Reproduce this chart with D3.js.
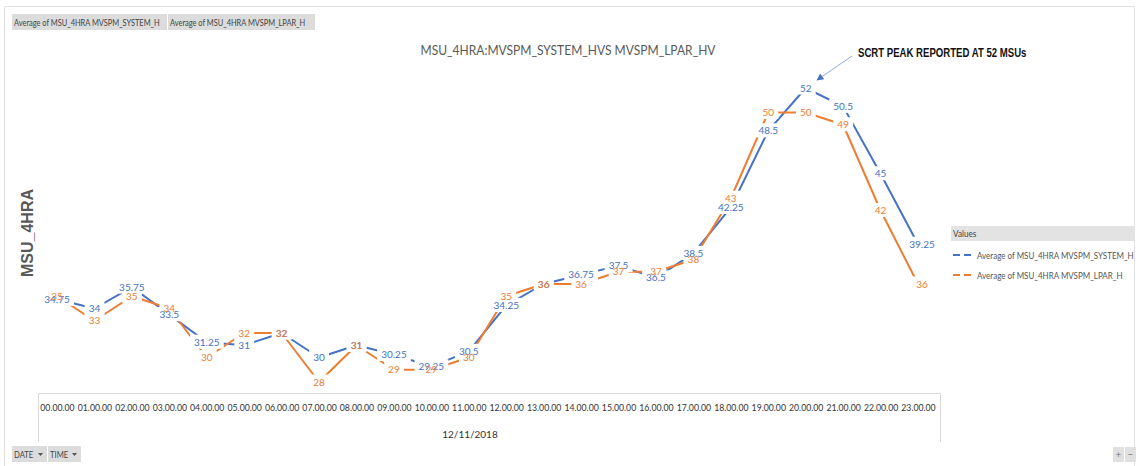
<!DOCTYPE html>
<html>
<head>
<meta charset="utf-8">
<script src="https://cdn.jsdelivr.net/npm/d3@7/dist/d3.min.js"></script>
<style>
  html, body { margin: 0; padding: 0; background: #fff; }
  svg { display: block; }
</style>
</head>
<body>
<svg id="chart" width="1138" height="466"></svg>
<script>
// ---- data ----
const hours = ["00.00.00","01.00.00","02.00.00","03.00.00","04.00.00","05.00.00","06.00.00","07.00.00",
  "08.00.00","09.00.00","10.00.00","11.00.00","12.00.00","13.00.00","14.00.00","15.00.00",
  "16.00.00","17.00.00","18.00.00","19.00.00","20.00.00","21.00.00","22.00.00","23.00.00"];
const systemValues = [34.75,34,35.75,33.5,31.25,31,32,30,31,30.25,29.25,30.5,34.25,36,36.75,37.5,36.5,38.5,42.25,48.5,52,50.5,45,39.25];
const lparValues   = [35,33,35,34,30,32,32,28,31,29,29,30,35,36,36,37,37,38,43,50,50,49,42,36];
const seriesNames = ["Average of MSU_4HRA MVSPM_SYSTEM_H","Average of MSU_4HRA MVSPM_LPAR_H"];
const dateLabel = "12/11/2018";
const titleText = "MSU_4HRA:MVSPM_SYSTEM_HVS MVSPM_LPAR_HV";
const yTitle = "MSU_4HRA";
const annotationText = "SCRT PEAK REPORTED AT 52 MSUs";

const colors = ["#4472C4", "#ED7D31"];
const baseFont = "Lato, 'Open Sans', sans-serif";

const svg = d3.select("#chart");

// helper: horizontally condensed text (emulates a narrow UI font)
function narrowText(g, xPos, yPos, txt, size, sx, opts = {}) {
  return g.append("text")
    .attr("transform", `translate(${xPos},${yPos}) scale(${sx},1)`)
    .attr("font-family", opts.family || baseFont)
    .attr("font-size", size)
    .attr("font-weight", opts.weight || "normal")
    .attr("fill", opts.fill || "#444")
    .attr("text-anchor", opts.anchor || "start")
    .text(txt);
}

// outer frame
svg.append("path").attr("d", "M4.5,466 V6.5 H1134.5 V466")
  .attr("fill", "none").attr("stroke", "#e2e2e2").attr("stroke-width", 1);

// top field buttons
const btns = [{x: 12, w: 155, t: seriesNames[0]}, {x: 168, w: 147, t: seriesNames[1]}];
btns.forEach(b => {
  svg.append("rect").attr("x", b.x).attr("y", 14).attr("width", b.w).attr("height", 16).attr("fill", "#dcdcdc");
  narrowText(svg, b.x + 2, 25.5, b.t, 9.3, 0.8);
});

// scales
const x = d3.scalePoint().domain(hours).range([57, 918]);
const y = d3.scaleLinear().domain([28, 52]).range([382, 88]);

// title
narrowText(svg, 568, 55, titleText, 14, 0.86, {anchor: "middle", fill: "#595959"});

// y axis title
svg.append("text").attr("transform", "translate(33,233) rotate(-90)").attr("text-anchor", "middle")
  .attr("font-family", "'Liberation Sans', Arial, sans-serif").attr("font-weight", "bold")
  .attr("font-size", 16).attr("fill", "#595959").text(yTitle);

// annotation
narrowText(svg, 858, 57, annotationText, 12, 0.8,
  {family: "'Liberation Sans', Arial, sans-serif", weight: "bold", fill: "#111"});
svg.append("defs").append("marker").attr("id", "arr").attr("viewBox", "0 0 10 10")
  .attr("refX", 9).attr("refY", 5).attr("markerWidth", 7).attr("markerHeight", 7)
  .attr("orient", "auto").append("path").attr("d", "M0,0 L10,5 L0,10 z").attr("fill", "#4472C4");
svg.append("line").attr("x1", 852).attr("y1", 56).attr("x2", 817).attr("y2", 80)
  .attr("stroke", "#8faadc").attr("stroke-width", 1).attr("marker-end", "url(#arr)");

// x-axis box
svg.append("path").attr("d", "M38.5,442 V393.5 H940.5 V442")
  .attr("fill", "none").attr("stroke", "#d9d9d9");

const xAxis = d3.axisBottom(x).tickSize(0).tickPadding(0);
const ax = svg.append("g").attr("transform", "translate(0,404)").call(xAxis);
ax.select(".domain").remove();
ax.selectAll(".tick text")
  .attr("font-family", baseFont).attr("font-size", 10)
  .attr("fill", "#333").attr("dy", "0.71em")
  .attr("transform", "scale(0.87,1)");

svg.append("text").attr("x", 470).attr("y", 438).attr("text-anchor", "middle")
  .attr("font-family", baseFont).attr("font-size", 10).attr("fill", "#333").text(dateLabel);

// lines
const series = [systemValues, lparValues];
const line = d3.line().x((d, i) => x(hours[i])).y(d => y(d));
series.forEach((vals, s) => {
  svg.append("path").datum(vals).attr("d", line).attr("fill", "none")
    .attr("stroke", colors[s]).attr("stroke-width", 2).attr("stroke-linejoin", "round");
});

// data labels: backgrounds first, then texts
const labelData = [];
series.forEach((vals, s) => vals.forEach((v, i) => labelData.push({s, i, v})));
const bgG = svg.append("g");
const txG = svg.append("g");
const texts = txG.selectAll("text").data(labelData).join("text")
  .attr("x", d => x(hours[d.i]) + (d.i === 23 ? 4 : 0))
  .attr("y", d => y(d.v))
  .attr("dy", "0.35em").attr("text-anchor", "middle")
  .attr("font-family", baseFont).attr("font-size", 10)
  .attr("fill", d => colors[d.s]).text(d => String(d.v));
texts.each(function() {
  const b = this.getBBox();
  bgG.append("rect").attr("x", b.x - 4).attr("y", b.y - 1).attr("width", b.width + 8)
    .attr("height", b.height + 2).attr("fill", "#fff");
});

// legend
svg.append("rect").attr("x", 951).attr("y", 226).attr("width", 184).attr("height", 15).attr("fill", "#e3e3e3");
narrowText(svg, 953, 237, "Values", 10, 0.82);
seriesNames.forEach((n, s) => {
  const yy = 255 + s * 20;
  svg.append("line").attr("x1", 953).attr("x2", 975).attr("y1", yy).attr("y2", yy)
    .attr("stroke", colors[s]).attr("stroke-width", 2).attr("stroke-dasharray", "7,4");
  narrowText(svg, 977, yy + 3.5, n, 10, 0.8, {fill: "#555"});
});

// bottom field buttons
const bb = [{x: 12, w: 35, t: "DATE"}, {x: 48, w: 33, t: "TIME"}];
bb.forEach(b => {
  svg.append("rect").attr("x", b.x).attr("y", 446).attr("width", b.w).attr("height", 16).attr("fill", "#dcdcdc");
  narrowText(svg, b.x + 2, 457.5, b.t, 9, 0.85);
  svg.append("path").attr("d", `M${b.x + b.w - 9},453 h5 l-2.5,3 z`).attr("fill", "#555");
});
// +/- buttons
[{x: 1113, t: "+"}, {x: 1125, t: "\u2212"}].forEach(b => {
  svg.append("rect").attr("x", b.x).attr("y", 447).attr("width", 11).attr("height", 15).attr("fill", "#e0e0e0");
  svg.append("text").attr("x", b.x + 5.5).attr("y", 458).attr("text-anchor", "middle")
    .attr("font-family", baseFont).attr("font-size", 10).attr("fill", "#777").text(b.t);
});
</script>
</body>
</html>
